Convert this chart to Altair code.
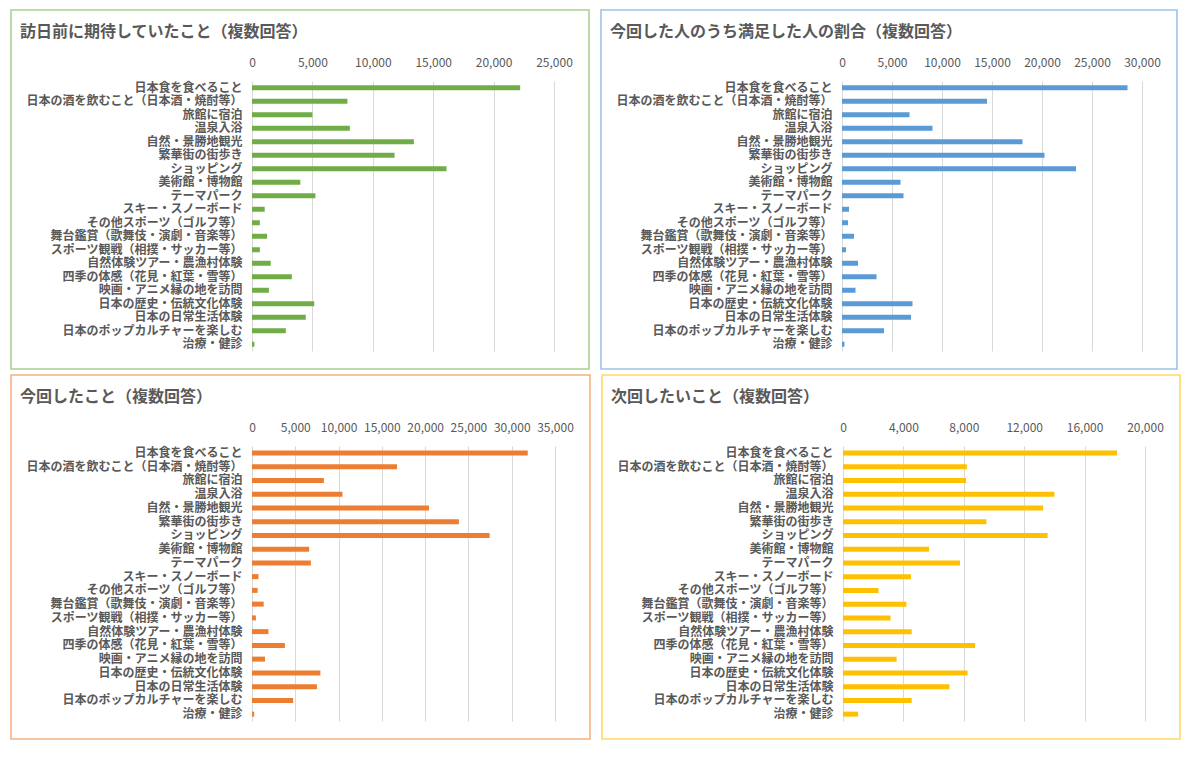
import altair as alt
import pandas as pd

categories = [
    "日本食を食べること",
    "日本の酒を飲むこと（日本酒・焼酎等）",
    "旅館に宿泊",
    "温泉入浴",
    "自然・景勝地観光",
    "繁華街の街歩き",
    "ショッピング",
    "美術館・博物館",
    "テーマパーク",
    "スキー・スノーボード",
    "その他スポーツ（ゴルフ等）",
    "舞台鑑賞（歌舞伎・演劇・音楽等）",
    "スポーツ観戦（相撲・サッカー等）",
    "自然体験ツアー・農漁村体験",
    "四季の体感（花見・紅葉・雪等）",
    "映画・アニメ縁の地を訪問",
    "日本の歴史・伝統文化体験",
    "日本の日常生活体験",
    "日本のポップカルチャーを楽しむ",
    "治療・健診",
]

expected = [22200, 7900, 5000, 8100, 13400, 11800, 16100, 4000, 5250, 1050,
            650, 1250, 650, 1550, 3300, 1400, 5150, 4450, 2800, 200]
satisfied = [28550, 14500, 6750, 9050, 18050, 20250, 23400, 5850, 6150, 700,
             600, 1200, 400, 1600, 3450, 1350, 7050, 6900, 4200, 250]
did = [31850, 16750, 8300, 10450, 20450, 23900, 27450, 6600, 6800, 750,
       650, 1350, 450, 1900, 3800, 1500, 7900, 7500, 4750, 250]
next_time = [18150, 8200, 8150, 14000, 13250, 9500, 13550, 5700, 7750, 4500,
             2350, 4200, 3150, 4550, 8750, 3550, 8250, 7050, 4550, 1000]

titles = [
    "訪日前に期待していたこと（複数回答）",
    "今回した人のうち満足した人の割合（複数回答）",
    "今回したこと（複数回答）",
    "次回したいこと（複数回答）",
]

FONT = "Noto Sans CJK JP"
TEXT = "#595959"


def panel(title, values, color, border, dmax, step, w, h):
    df = pd.DataFrame({"item": categories, "value": values})
    bars = alt.Chart(df).mark_bar(color=color, size=5).encode(
        x=alt.X(
            "value:Q",
            scale=alt.Scale(domain=[0, dmax], nice=False),
            axis=alt.Axis(
                orient="top", values=list(range(0, dmax + 1, step)), format=",d",
                grid=True, gridColor="#d9d9d9", gridWidth=1, domain=False, ticks=False,
                labelColor=TEXT, labelFontSize=12, labelFont=FONT, labelPadding=12,
                labelOverlap=False, labelFlush=False, labelBound=False,
                title=None,
            ),
        ),
        y=alt.Y(
            "item:N", sort=categories,
            scale=alt.Scale(paddingInner=0, paddingOuter=0),
            axis=alt.Axis(
                title=None, domain=False, ticks=False, grid=False,
                labelColor=TEXT, labelFontSize=12, labelFont=FONT,
                labelFontWeight="bold", labelPadding=10, labelLimit=400,
                labelOverlap=False,
            ),
        ),
    )
    one = pd.DataFrame({"a": [0]})
    frame = alt.Chart(one).mark_rect(
        fillOpacity=0, stroke=border, strokeWidth=1.6
    ).encode(
        x=alt.value(-241), x2=alt.value(w + 35),
        y=alt.value(-71), y2=alt.value(h + 18),
    )
    ttl = alt.Chart(one).mark_text(
        align="left", baseline="middle", fontSize=16, fontWeight="bold",
        color=TEXT, font=FONT,
    ).encode(x=alt.value(-232), y=alt.value(-49), text=alt.value(title))
    return alt.layer(frame, bars, ttl).properties(width=w, height=h)


tl = panel(titles[0], expected, "#70ad47", "#a9d18e", 25000, 5000, 302, 270)
tr = panel(titles[1], satisfied, "#5b9bd5", "#9dc3e6", 30000, 5000, 300, 270)
bl = panel(titles[2], did, "#ed7d31", "#f4b183", 35000, 5000, 303, 275)
br = panel(titles[3], next_time, "#ffc000", "#ffd966", 20000, 4000, 302, 275)

chart = alt.vconcat(
    alt.hconcat(tl, tr, spacing=10),
    alt.hconcat(bl, br, spacing=10),
    spacing=4,
).properties(
    padding={"left": 10, "top": 9, "right": 0, "bottom": 0},
    background="white",
).configure_view(stroke=None)

chart.save("out.html", embed_options={"renderer": "svg", "actions": False})
